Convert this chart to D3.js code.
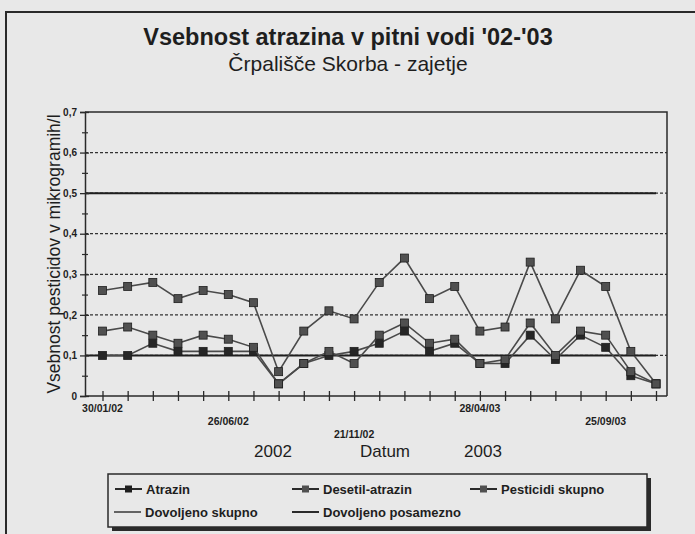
<!DOCTYPE html>
<html>
<head>
<meta charset="utf-8">
<script src="https://cdnjs.cloudflare.com/ajax/libs/d3/7.8.5/d3.min.js"></script>
<style>
  body { margin: 0; background: #e8e8e8; }
  svg { display: block; font-family: "Liberation Sans", Arial, sans-serif; }
</style>
</head>
<body>
<svg id="chart"></svg>
<script>
let width = 695, height = 534;

// data (µg/l), one value per sample date
let atrazin   = [0.10, 0.10, 0.13, 0.11, 0.11, 0.11, 0.11, 0.03, 0.08, 0.10, 0.11, 0.13, 0.16, 0.11, 0.13, 0.08, 0.08, 0.15, 0.09, 0.15, 0.12, 0.05, 0.03];
let desetil   = [0.16, 0.17, 0.15, 0.13, 0.15, 0.14, 0.12, 0.03, 0.08, 0.11, 0.08, 0.15, 0.18, 0.13, 0.14, 0.08, 0.09, 0.18, 0.10, 0.16, 0.15, 0.06, 0.03];
let pesticidi = [0.26, 0.27, 0.28, 0.24, 0.26, 0.25, 0.23, 0.06, 0.16, 0.21, 0.19, 0.28, 0.34, 0.24, 0.27, 0.16, 0.17, 0.33, 0.19, 0.31, 0.27, 0.11, 0.03];
let dovoljenoSkupno = 0.5, dovoljenoPosamezno = 0.1;

let dateLabels = ["30/01/02", "26/06/02", "21/11/02", "28/04/03", "25/09/03"];
let dateLabelIdx = [0, 5, 10, 15, 20];
let dateLabelRow = [0, 1, 2, 0, 1];   // staggered rows like the original
let yTicks = [0, 0.1, 0.2, 0.3, 0.4, 0.5, 0.6, 0.7];
let yMinor = [0.05, 0.15, 0.25, 0.35, 0.45, 0.55, 0.65];
let yearLabels = ["2002", "Datum", "2003"];

let plot = { left: 85, right: 667, top: 112, bottom: 396 };

let svg = d3.select("#chart").attr("width", width).attr("height", height);

// scanned page frame
svg.append("path")
  .attr("d", "M6,534 L6,12 L695,12")
  .attr("fill", "none").attr("stroke", "#2a2a2a").attr("stroke-width", 2);

// title
svg.append("text")
  .attr("x", 348).attr("y", 45)
  .attr("text-anchor", "middle")
  .style("font-size", "23.5px").style("font-weight", "bold").style("fill", "#1e1e1e")
  .text("Vsebnost atrazina v pitni vodi '02-'03");
svg.append("text")
  .attr("x", 348).attr("y", 71)
  .attr("text-anchor", "middle")
  .style("font-size", "21px").style("fill", "#1e1e1e")
  .text("Črpališče Skorba - zajetje");

let x = d3.scaleLinear().domain([0, pesticidi.length - 1]).range([102.5, 656]);
let y = d3.scaleLinear().domain([0, 0.7]).range([plot.bottom, plot.top]);

let g = svg.append("g");

// dotted gridlines
g.selectAll(".grid")
  .data(yTicks.filter(v => v > 0 && v < 0.7))
  .enter().append("line")
  .attr("x1", plot.left).attr("x2", plot.right)
  .attr("y1", d => y(d)).attr("y2", d => y(d))
  .attr("stroke", "#333").attr("stroke-width", 1.3)
  .attr("stroke-dasharray", "3,2");

// plot border (top + right)
g.append("path")
  .attr("d", `M${plot.left},${plot.top} L${plot.right},${plot.top} L${plot.right},${plot.bottom}`)
  .attr("fill", "none").attr("stroke", "#2a2a2a").attr("stroke-width", 1.5);

// limit lines
[dovoljenoSkupno, dovoljenoPosamezno].forEach(v => {
  g.append("line")
    .attr("x1", plot.left).attr("x2", x(pesticidi.length - 1))
    .attr("y1", y(v)).attr("y2", y(v))
    .attr("stroke", "#1e1e1e").attr("stroke-width", 2);
});

// y axis
let yAxis = g.append("g")
  .attr("transform", "translate(" + plot.left + ",0)")
  .call(d3.axisLeft(y).tickValues(yTicks).tickSize(5).tickPadding(3)
    .tickFormat(d => d === 0 ? "0" : d.toFixed(1).replace(".", ",")));
yAxis.select(".domain").attr("stroke", "#2a2a2a").attr("stroke-width", 1.5);
yAxis.selectAll(".tick line").attr("x1", 4).attr("stroke", "#2a2a2a").attr("stroke-width", 1.3);
yAxis.selectAll(".tick text")
  .style("font-size", "10px").style("font-weight", "bold").style("fill", "#1e1e1e")
  .style("font-family", "'Liberation Sans', Arial, sans-serif");

let yMinorAxis = g.append("g")
  .attr("transform", "translate(" + plot.left + ",0)")
  .call(d3.axisLeft(y).tickValues(yMinor).tickSize(3).tickFormat(""));
yMinorAxis.select(".domain").remove();
yMinorAxis.selectAll(".tick line").attr("x1", 3).attr("stroke", "#2a2a2a").attr("stroke-width", 1.2);

// x axis
let xAxis = g.append("g")
  .attr("transform", "translate(0," + plot.bottom + ")")
  .call(d3.axisBottom(x).tickValues(d3.range(pesticidi.length)).tickSize(5).tickFormat(""));
xAxis.select(".domain").attr("d", `M${plot.left},0H${plot.right}`)
  .attr("stroke", "#2a2a2a").attr("stroke-width", 1.5);
xAxis.selectAll(".tick line").attr("y1", -5).attr("stroke", "#2a2a2a").attr("stroke-width", 1.3);

g.selectAll(".dlabel")
  .data(dateLabels)
  .enter().append("text")
  .attr("x", (d, i) => x(dateLabelIdx[i]))
  .attr("y", (d, i) => 412 + dateLabelRow[i] * 13)
  .attr("text-anchor", "middle")
  .style("font-size", "10.5px").style("font-weight", "bold").style("fill", "#1e1e1e")
  .text(d => d);

// axis titles
svg.append("text")
  .attr("transform", "translate(60,254) rotate(-90)")
  .attr("text-anchor", "middle")
  .style("font-size", "17.5px").style("fill", "#1e1e1e")
  .text("Vsebnost pesticidov v mikrogramih/l");

svg.selectAll(".ylab")
  .data(yearLabels)
  .enter().append("text")
  .attr("x", (d, i) => [273, 385, 483][i])
  .attr("y", 457)
  .attr("text-anchor", "middle")
  .style("font-size", "17px").style("fill", "#1e1e1e")
  .text(d => d);

// series
let series = [
  { name: "Atrazin", values: atrazin, fill: "#262626" },
  { name: "Desetil-atrazin", values: desetil, fill: "#505050" },
  { name: "Pesticidi skupno", values: pesticidi, fill: "#505050" }
];

let line = d3.line().x((d, i) => x(i)).y(d => y(d));

series.forEach(s => {
  g.append("path")
    .datum(s.values)
    .attr("d", line)
    .attr("fill", "none").attr("stroke", "#4a4a4a").attr("stroke-width", 1.6);
  g.selectAll(null)
    .data(s.values)
    .enter().append("rect")
    .attr("x", (d, i) => x(i) - 4).attr("y", d => y(d) - 4)
    .attr("width", 8).attr("height", 8)
    .attr("fill", s.fill).attr("stroke", "#1e1e1e").attr("stroke-width", 0.8);
});

// legend
let legend = svg.append("g");
legend.append("rect")
  .attr("x", 112).attr("y", 478).attr("width", 539).attr("height", 53)
  .attr("fill", "#2a2a2a");
legend.append("rect")
  .attr("x", 108).attr("y", 474).attr("width", 539).attr("height", 53)
  .attr("fill", "#e8e8e8").attr("stroke", "#2a2a2a").attr("stroke-width", 1.5);

let legendItems = [
  { name: "Atrazin", lx: 115, row: 0, marker: "#1e1e1e", sw: 2 },
  { name: "Desetil-atrazin", lx: 292, row: 0, marker: "#505050", sw: 2 },
  { name: "Pesticidi skupno", lx: 470, row: 0, marker: "#505050", sw: 2 },
  { name: "Dovoljeno skupno", lx: 114, row: 1, marker: null, sw: 1.4 },
  { name: "Dovoljeno posamezno", lx: 292, row: 1, marker: null, sw: 2 }
];

legendItems.forEach(it => {
  let ly = 489 + it.row * 23;
  legend.append("line")
    .attr("x1", it.lx).attr("x2", it.lx + 27)
    .attr("y1", ly).attr("y2", ly)
    .attr("stroke", "#2a2a2a").attr("stroke-width", it.sw);
  if (it.marker) {
    legend.append("rect")
      .attr("x", it.lx + 10).attr("y", ly - 3.5)
      .attr("width", 7).attr("height", 7)
      .attr("fill", it.marker);
  }
  legend.append("text")
    .attr("x", it.lx + 31).attr("y", ly + 4.5)
    .style("font-size", "13px").style("font-weight", "bold").style("fill", "#1e1e1e")
    .text(it.name);
});
</script>
</body>
</html>
